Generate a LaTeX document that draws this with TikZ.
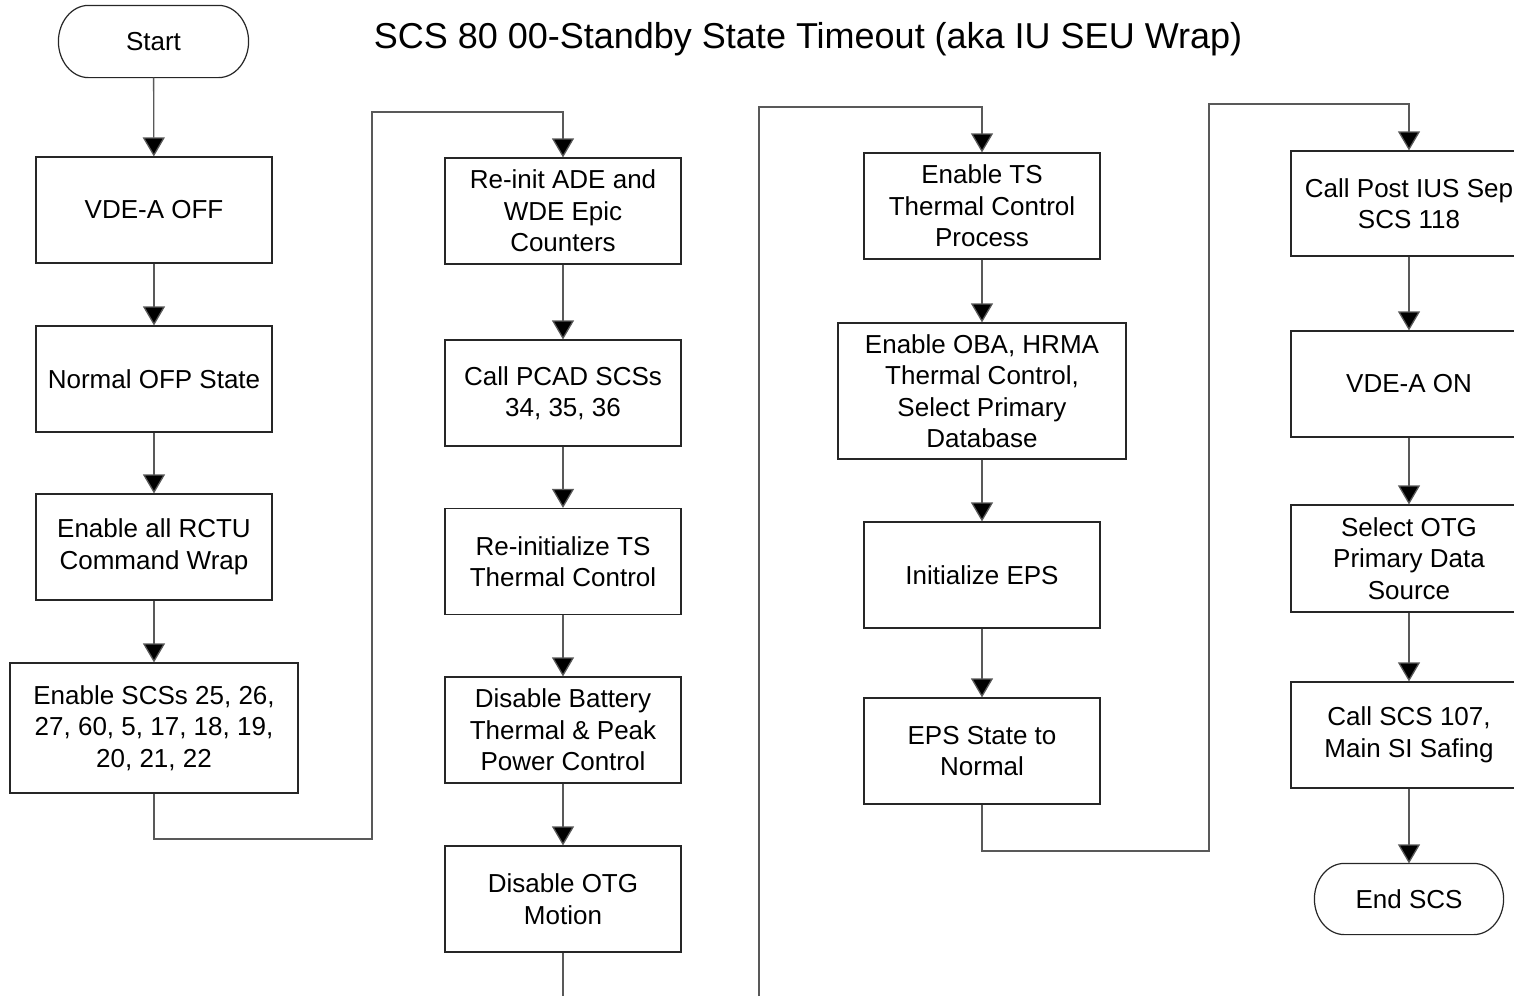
\documentclass[tikz,border=0pt]{standalone}
\usepackage{fontspec}
\setmainfont{Liberation Sans}
\usetikzlibrary{arrows.meta}
\tikzset{
  stepbox/.style={draw=black!85, line width=1.2pt, fill=white, align=center,
    minimum width=236pt, minimum height=106pt, inner sep=0pt,
    font=\fontsize{26}{31.5}\selectfont},
  widebox/.style={stepbox, minimum width=288pt},
  term/.style={stepbox, draw=none, fill=none, minimum width=189pt, minimum height=71pt},
  termline/.style={draw=black!85, line width=1.2pt},
  flow/.style={draw=black!65, line width=1.3pt, -{Triangle[width=22pt,length=19pt,fill=black]}},
  wire/.style={draw=black!65, line width=1.3pt},
}
% outline of a terminal node: straight top and bottom, elliptic ends
\newcommand{\termoutline}[1]{%
  \draw[termline] ([xshift=30pt]#1.north west) -- ([xshift=-30pt]#1.north east)
    .. controls ([xshift=-13.4pt]#1.north east) and ([yshift=19.6pt]#1.east) .. (#1.east)
    .. controls ([yshift=-19.6pt]#1.east) and ([xshift=-13.4pt]#1.south east) .. ([xshift=-30pt]#1.south east)
    -- ([xshift=30pt]#1.south west)
    .. controls ([xshift=13.4pt]#1.south west) and ([yshift=-19.6pt]#1.west) .. (#1.west)
    .. controls ([yshift=19.6pt]#1.west) and ([xshift=13.4pt]#1.north west) .. ([xshift=30pt]#1.north west)
    -- cycle;}
\begin{document}
\begin{tikzpicture}[x=1pt, y=-1pt]
\useasboundingbox (0,0) rectangle (1514,996);

\node[font=\fontsize{36}{40}\selectfont, anchor=base] (title) at (808,48)
  {SCS 80 00-Standby State Timeout (aka IU SEU Wrap)};

% column 1
\node[term] (start) at (153.5,41.5) {Start};
\termoutline{start}
\node[stepbox] (vdeoff) at (154,210) {VDE-A OFF};
\node[stepbox] (ofp) at (154,379) {Normal OFP State};
\node[stepbox] (rctu) at (154,547) {Enable all RCTU\\Command Wrap};
\node[widebox, minimum height=130pt] (scss) at (154,728) {Enable SCSs 25, 26,\\27, 60, 5, 17, 18, 19,\\20, 21, 22};

% column 2
\node[stepbox] (ade) at (563,211) {Re-init ADE and\\WDE Epic\\Counters};
\node[stepbox] (pcad) at (563,393) {Call PCAD SCSs\\34, 35, 36};
\node[stepbox] (tsinit) at (563,561.5) {Re-initialize TS\\Thermal Control};
\node[stepbox] (batt) at (563,730) {Disable Battery\\Thermal \& Peak\\Power Control};
\node[stepbox] (otg) at (563,899) {Disable OTG\\Motion};

% column 3
\node[stepbox] (ents) at (982,206) {Enable TS\\Thermal Control\\Process};
\node[widebox, minimum height=136pt] (oba) at (982,391) {Enable OBA, HRMA\\Thermal Control,\\Select Primary\\Database};
\node[stepbox] (eps) at (982,575) {Initialize EPS};
\node[stepbox] (epsn) at (982,751) {EPS State to\\Normal};

% column 4
\node[stepbox, minimum height=105pt] (post) at (1409,203.5) {Call Post IUS Sep\\SCS 118};
\node[stepbox] (vdeon) at (1409,384) {VDE-A ON};
\node[stepbox, minimum height=107pt] (otgsrc) at (1409,558.5) {Select OTG\\Primary Data\\Source};
\node[stepbox] (safe) at (1409,735) {Call SCS 107,\\Main SI Safing};
\node[term, minimum width=188pt, minimum height=70pt] (endscs) at (1409,899) {End SCS};
\termoutline{endscs}

% bend points of the connectors between columns
\coordinate (b1) at (154,839);
\coordinate (b2) at (372,112);
\coordinate (c2) at (563,996);
\coordinate (b3) at (759,996);
\coordinate (b4) at (759,107);
\coordinate (b5) at (982,851);
\coordinate (b6) at (1209,104);

% connectors
\draw[flow] (start) -- (vdeoff);
\draw[flow] (vdeoff) -- (ofp);
\draw[flow] (ofp) -- (rctu);
\draw[flow] (rctu) -- (scss);
\draw[flow] (scss.south) -- (b1) -| (b2) -| (ade.north);
\draw[flow] (ade) -- (pcad);
\draw[flow] (pcad) -- (tsinit);
\draw[flow] (tsinit) -- (batt);
\draw[flow] (batt) -- (otg);
\draw[wire] (otg.south) -- (c2);
\draw[flow] (b3) -- (b4) -| (ents.north);
\draw[flow] (ents) -- (oba);
\draw[flow] (oba) -- (eps);
\draw[flow] (eps) -- (epsn);
\draw[flow] (epsn.south) -- (b5) -| (b6) -| (post.north);
\draw[flow] (post) -- (vdeon);
\draw[flow] (vdeon) -- (otgsrc);
\draw[flow] (otgsrc) -- (safe);
\draw[flow] (safe) -- (endscs);
\end{tikzpicture}
\end{document}
